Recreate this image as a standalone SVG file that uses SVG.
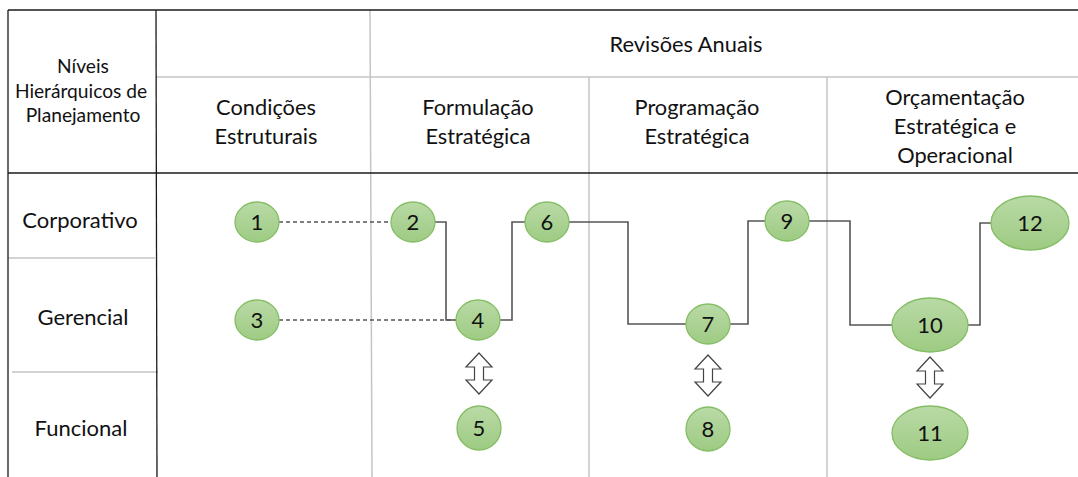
<svg xmlns="http://www.w3.org/2000/svg" width="1078" height="477" viewBox="0 0 1078 477">
<defs>
<linearGradient id="g" x1="0" y1="0" x2="0" y2="1">
<stop offset="0" stop-color="#b9daa6"/>
<stop offset="1" stop-color="#9ecb83"/>
</linearGradient>
<style>
.blk{stroke:#1a1a1a;stroke-width:1.3;fill:none}
.gry{stroke:#c4c4c4;stroke-width:1.5;fill:none}
.gry2{stroke:#a8a8a8;stroke-width:1.2;fill:none}
.t{font-family:Lato,"Liberation Sans",sans-serif;fill:#111;text-anchor:middle}
.hd{font-size:21.8px}
.lh{font-size:19.2px}
.rl{font-size:22px}
.node ellipse{fill:url(#g);stroke:#84bd63;stroke-width:1.3}
.node text{font-family:Lato,"Liberation Sans",sans-serif;font-size:22px;fill:#111;text-anchor:middle}
.c{stroke:#555;stroke-width:1.6;fill:none}
.d{stroke:#555;stroke-width:1.3;fill:none;stroke-dasharray:4 3}
.arr{fill:#fff;stroke:#444;stroke-width:1.2}
</style>
</defs>
<rect width="1078" height="477" fill="#fff"/>
<g id="table">
<line class="gry" x1="156" y1="77" x2="1078" y2="77"/>
<line class="gry" x1="370" y1="10" x2="372" y2="477"/>
<line class="gry" x1="589" y1="77" x2="589" y2="477"/>
<line class="gry" x1="827" y1="77" x2="827" y2="477"/>
<line class="gry2" x1="8" y1="258" x2="155" y2="258"/>
<line class="gry2" x1="12" y1="372" x2="158" y2="372"/>
<line class="blk" x1="8" y1="10" x2="1078" y2="10"/>
<line class="blk" x1="8" y1="10" x2="8" y2="477"/>
<line class="blk" x1="156" y1="10" x2="157" y2="477"/>
<line class="blk" x1="8" y1="173" x2="1078" y2="173"/>
</g>
<g id="labels">
<text class="t lh" x="83" y="73">Níveis</text>
<text class="t lh" x="81" y="98">Hierárquicos de</text>
<text class="t lh" x="83" y="122">Planejamento</text>
<text class="t hd" x="686" y="52">Revisões Anuais</text>
<text class="t hd" x="266" y="115">Condições</text>
<text class="t hd" x="266" y="144">Estruturais</text>
<text class="t hd" x="478" y="115">Formulação</text>
<text class="t hd" x="478" y="144">Estratégica</text>
<text class="t hd" x="697" y="115">Programação</text>
<text class="t hd" x="697" y="144">Estratégica</text>
<text class="t hd" x="955" y="105">Orçamentação</text>
<text class="t hd" x="955" y="134">Estratégica e</text>
<text class="t hd" x="955" y="163">Operacional</text>
<text class="t rl" x="80" y="228">Corporativo</text>
<text class="t rl" x="83" y="325">Gerencial</text>
<text class="t rl" x="81" y="436">Funcional</text>
</g>
<g id="connectors">
<line class="d" x1="279" y1="222" x2="391" y2="222"/>
<line class="d" x1="279" y1="320" x2="456" y2="320"/>
<polyline class="c" points="435,222 446,222 446,320 456,320"/>
<polyline class="c" points="500,320 512,320 512,222 525,222"/>
<polyline class="c" points="569,222 628,222 628,324 686,324"/>
<polyline class="c" points="730,324 748,324 748,221 765,221"/>
<polyline class="c" points="809,221 850,221 850,325 892,325"/>
<polyline class="c" points="968,325 980,325 980,223 991,223"/>
<path class="arr" d="M479,353 L492,367 L483.5,367 L483.5,380 L492,380 L479,394 L466,380 L474.5,380 L474.5,367 L466,367 Z"/>
<path class="arr" d="M708,355 L721,369 L712.5,369 L712.5,382 L721,382 L708,396 L695,382 L703.5,382 L703.5,369 L695,369 Z"/>
<path class="arr" d="M930,357 L943,371 L934.5,371 L934.5,384 L943,384 L930,398 L917,384 L925.5,384 L925.5,371 L917,371 Z"/>
</g>
<g id="n1" class="node"><ellipse cx="257" cy="222" rx="22" ry="20"/><text x="257" y="230">1</text></g>
<g id="n2" class="node"><ellipse cx="413" cy="222" rx="22" ry="20"/><text x="413" y="230">2</text></g>
<g id="n3" class="node"><ellipse cx="257" cy="320" rx="22" ry="20"/><text x="257" y="328">3</text></g>
<g id="n4" class="node"><ellipse cx="478" cy="320" rx="22" ry="20"/><text x="478" y="328">4</text></g>
<g id="n5" class="node"><ellipse cx="479" cy="428" rx="22" ry="22"/><text x="479" y="436">5</text></g>
<g id="n6" class="node"><ellipse cx="547" cy="222" rx="22" ry="20"/><text x="547" y="230">6</text></g>
<g id="n7" class="node"><ellipse cx="708" cy="324" rx="22" ry="20"/><text x="708" y="332">7</text></g>
<g id="n8" class="node"><ellipse cx="708" cy="429" rx="22" ry="22"/><text x="708" y="437">8</text></g>
<g id="n9" class="node"><ellipse cx="787" cy="221" rx="22" ry="20"/><text x="787" y="229">9</text></g>
<g id="n10" class="node"><ellipse cx="930" cy="325" rx="38" ry="27"/><text x="930" y="333">10</text></g>
<g id="n11" class="node"><ellipse cx="930" cy="433" rx="38" ry="27"/><text x="930" y="441">11</text></g>
<g id="n12" class="node"><ellipse cx="1030" cy="223" rx="39" ry="27"/><text x="1030" y="231">12</text></g>
</svg>
